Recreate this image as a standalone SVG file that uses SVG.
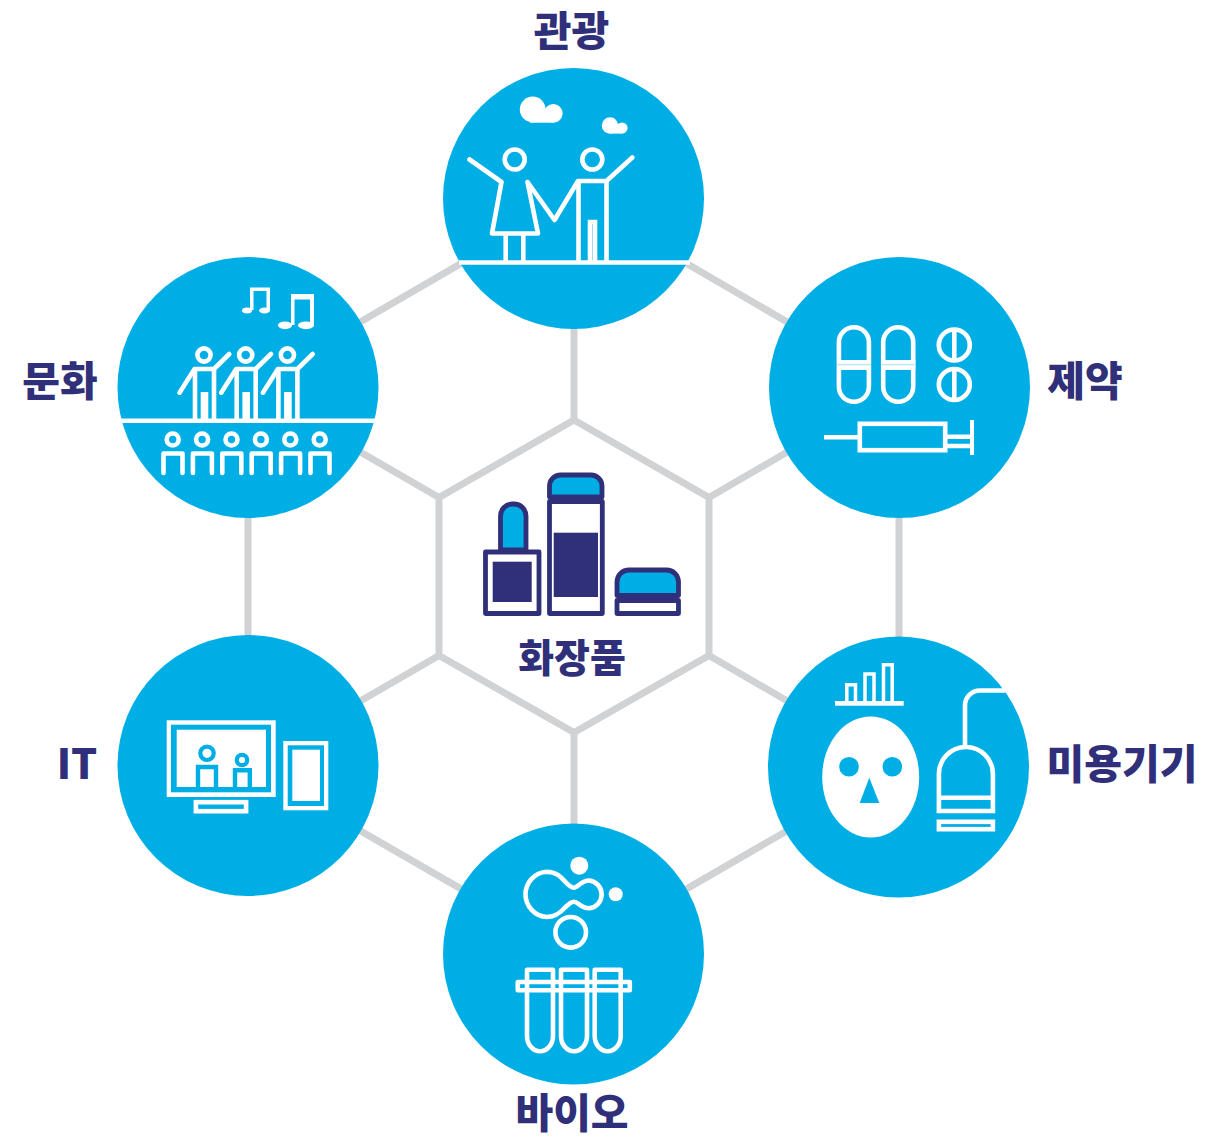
<svg xmlns="http://www.w3.org/2000/svg" width="1227" height="1140" viewBox="0 0 1227 1140">
<style>
.c{fill:#00aee6}
.l{fill:none;stroke:#fff;stroke-width:4.600}
.r{stroke-linecap:round;stroke-linejoin:round}
.w{fill:#fff}
.b{fill:#00aee6}
.n{fill:#2f3079}
.nl{stroke:#2f3079;stroke-width:4.800;stroke-linejoin:round}
.t{font-family:"Noto Sans CJK KR","Noto Sans",sans-serif;font-weight:900;font-size:41px;fill:#2f3079;text-anchor:middle}
#connectors path{fill:none;stroke:#d1d2d4;stroke-width:7}
</style>
<rect width="1227" height="1140" fill="#fff"/>
<g id="connectors">
<path d="M574,420L709,497.500V655.500L574,732.500L439,655.500V497.500Z"/>
<path d="M574,198L899,387V766L574,954L248,766V387Z"/>
<path d="M574,198V420M574,732V954M439,497.500L248,387M709,497.500L899,387M709,655.500L899,766M439,655.500L248,766"/>
</g>
<g id="node-center">
<path class="b nl" d="M500.500,550V516a12,12 0 0 1 12,-12h1.500a12,12 0 0 1 12,12V550Z"/>
<rect x="485.500" y="552" width="53.500" height="61.500" fill="#fff" class="nl"/>
<rect class="n" x="492.700" y="561.700" width="39" height="40.300"/>
<path class="b nl" d="M549.500,497V486a11,11 0 0 1 11,-11H591a11,11 0 0 1 11,11V497Z"/>
<rect x="549.500" y="501.500" width="52.800" height="112" fill="#fff" class="nl"/>
<rect class="n" x="553.700" y="532.700" width="44.300" height="64.300"/>
<path class="b nl" d="M617,595.500V582a12,12 0 0 1 12,-12H666.500a12,12 0 0 1 12,12V595.500Z"/>
<rect x="617" y="600.500" width="61.500" height="13" fill="#fff" class="nl"/>
<text class="t" x="572" y="672" style="font-size:39px">화장품</text>
</g>
<g id="node-tourism">
<circle class="c" cx="573.500" cy="198.500" r="130.500"/>
<path class="l" d="M459,262.500H690"/>
<g class="w">
<circle cx="532.700" cy="109.500" r="12.900"/><circle cx="553.300" cy="113.400" r="9.300"/><rect x="530" y="111" width="24" height="11.700"/>
<circle cx="610" cy="125.500" r="8.200"/><circle cx="622" cy="128" r="5.600"/><rect x="610" y="125" width="12" height="8.600"/>
</g>
<circle class="l" cx="514.700" cy="159.500" r="10"/>
<circle class="l" cx="592.300" cy="159.500" r="10"/>
<path class="l r" d="M469.500,159.500L501.500,182L492,233.500H538L527.500,182L554.500,220L578,181H606.500L632.300,157.500"/>
<path class="l" d="M505.700,233.500V262M523.300,233.500V262M578.500,181V262M606.500,181V262M590,262V222H595V262"/>
</g>
<g id="node-culture">
<circle class="c" cx="248" cy="387.500" r="130.500"/>
<path class="l" d="M117.500,420.700H378.500"/>
<g id="notes" class="w">
<path d="M250,287.500H270V310H266.500V291H253.500V310H250Z"/>
<ellipse cx="247" cy="310.500" rx="5" ry="2.900"/><ellipse cx="264.500" cy="310.500" rx="5.500" ry="2.900"/>
<path d="M291,294H314V325H310V299.500H294.500V325H291Z"/>
<ellipse cx="285" cy="325.300" rx="7" ry="3.900"/><ellipse cx="306" cy="325.300" rx="8" ry="3.900"/>
</g>
<defs>
<g id="performer">
<circle class="l" cx="204" cy="355" r="6.600"/>
<path class="l r" d="M179.500,392.700L194.500,369H214L229.300,354"/>
<path class="l" d="M195,369V420M214,369V420"/>
<rect class="w" x="200.700" y="392" width="7.600" height="28.500"/>
</g>
<g id="viewer">
<circle class="l" cx="172.700" cy="439.500" r="6"/>
<path class="l r" d="M163.500,473V453.500H182.500V473"/>
</g>
</defs>
<use href="#performer"/><use href="#performer" x="41.700"/><use href="#performer" x="83.400"/>
<use href="#viewer"/><use href="#viewer" x="29.400"/><use href="#viewer" x="58.800"/><use href="#viewer" x="88.200"/><use href="#viewer" x="117.600"/><use href="#viewer" x="147"/>
</g>
<g id="node-pharma">
<circle class="c" cx="899.500" cy="387.500" r="130.500"/>
<g id="capsule">
<rect class="l" x="838.900" y="327.200" width="30" height="74.600" rx="15"/>
<rect class="w" x="837" y="360" width="34" height="10"/>
<path d="M837,364.700H871" stroke="#a6e0f5" stroke-width="1"/>
</g>
<use href="#capsule" x="44.300"/>
<circle class="l" cx="954.300" cy="345" r="15.500"/>
<circle class="l" cx="954.300" cy="384.500" r="15.500"/>
<path class="l" d="M954.300,329V361M954.300,369V400"/>
<rect class="l" x="859.800" y="423.800" width="85.400" height="26.400"/>
<path class="l" d="M824,437.300H858M947,436.800H971M947,446H971"/>
<rect class="w" x="970" y="420" width="4" height="35"/>
</g>
<g id="node-device">
<circle class="c" cx="898.500" cy="767" r="130.500"/>
<rect class="w" x="835" y="701" width="68.700" height="4.700"/>
<path class="l" style="stroke-width:3.500" d="M846.800,701V684.700H855.500V701M865,701V674H874V701M883.500,701V664.800H892.200V701"/>
<ellipse class="w" cx="870.700" cy="777" rx="48.500" ry="60.500"/>
<circle class="b" cx="849" cy="766.700" r="9.800"/>
<circle class="b" cx="892.300" cy="766.700" r="9.800"/>
<path class="b" d="M869.300,777.700L859.700,803H879.300Z"/>
<path class="l" d="M1005.300,690.500H980a15,15 0 0 0 -15,15V745"/>
<path class="l" d="M938.900,811V774a27,27 0 0 1 54,0V811ZM938.900,797.700H992.900"/>
<rect class="l" x="938.900" y="821.800" width="54" height="7.400"/>
</g>
<g id="node-it">
<circle class="c" cx="248" cy="765.500" r="130.500"/>
<rect class="w" x="166.700" y="720.300" width="109" height="76.700"/>
<rect class="b" x="171" y="724.700" width="100" height="67.600"/>
<rect class="w" x="176.700" y="729.700" width="89.300" height="57.300"/>
<circle cx="207" cy="753.300" r="6.700" fill="none" stroke="#00aee6" stroke-width="4.200"/>
<circle cx="242" cy="760" r="5.200" fill="none" stroke="#00aee6" stroke-width="4.200"/>
<path fill="none" stroke="#00aee6" stroke-width="4.400" d="M198,787V767H216V787M235,787V770.200H249.800V787"/>
<rect class="l" x="195.900" y="802.200" width="50.200" height="9"/>
<rect class="w" x="283.300" y="741" width="45" height="69.300"/>
<rect class="b" x="287.700" y="745.300" width="36.300" height="60.700"/>
<rect class="w" x="292.300" y="749.700" width="27.700" height="51.300"/>
</g>
<g id="node-bio">
<circle class="c" cx="573.500" cy="954" r="130.500"/>
<circle class="w" cx="579.300" cy="865.700" r="9"/>
<circle class="w" cx="615.700" cy="894.300" r="7"/>
<circle class="l" cx="570.700" cy="932.300" r="15.300"/>
<path class="l" d="M546.700,871.700C556,871.700 561,877 565,881.500C569,886 572,887.700 574,887.700C578,887.700 581,880.500 589.300,880.500A14,14 0 0 1 589.300,908.300C581,908.300 578,901.700 574,901.700C571,901.700 569,903.500 565,907.500C561,912 556,917 546.700,917A22.700,22.700 0 0 1 546.700,871.700Z"/>
<path id="tube" class="l r" d="M527,969.800H553V1036a13,15.300 0 0 1 -26,0Z"/>
<use href="#tube" x="34"/><use href="#tube" x="67.700"/>
<rect class="l r" x="517.800" y="982" width="112" height="8.300"/>
</g>
<text class="t" x="571.500" y="46">관광</text>
<text class="t" x="60" y="396">문화</text>
<text class="t" x="1085" y="396">제약</text>
<text class="t" x="1122" y="779">미용기기</text>
<text class="t" x="77" y="779">IT</text>
<text class="t" x="572" y="1128">바이오</text>
</svg>
